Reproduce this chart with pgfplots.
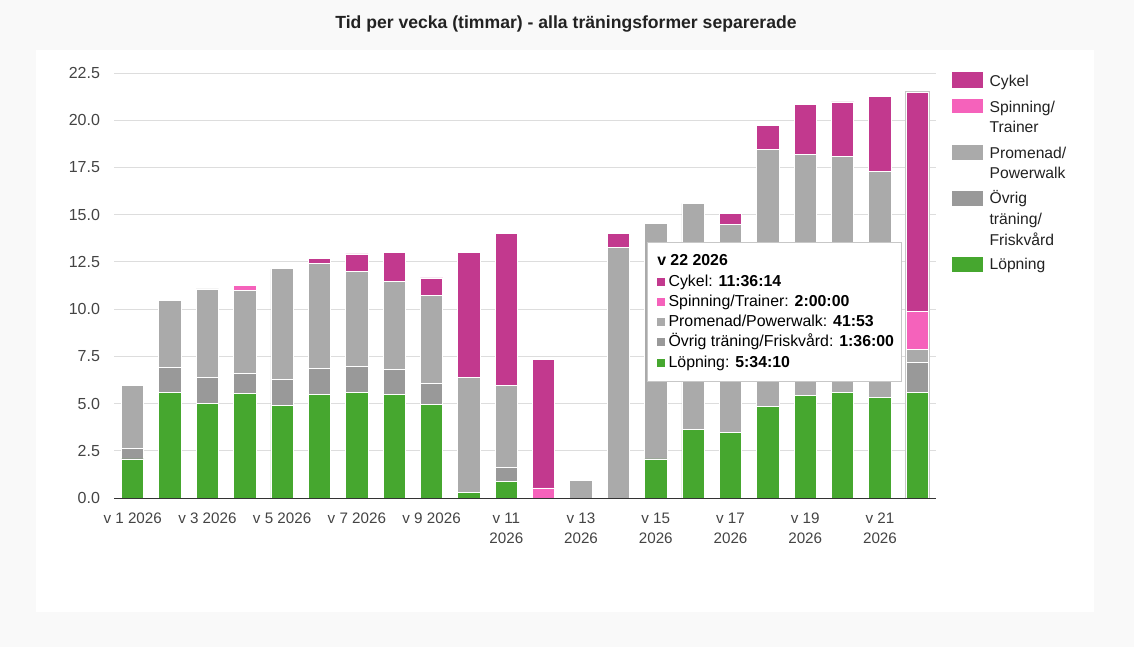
\documentclass[border=0pt]{standalone}
\usepackage{fontspec}
\setmainfont{Liberation Sans}
\usepackage{pgfplots}
\pgfplotsset{compat=1.18}
\usepackage{pgfplotstable}
\definecolor{cyk}{HTML}{C2398E}
\definecolor{spin}{HTML}{F562BB}
\definecolor{prom}{HTML}{AAAAAA}
\definecolor{ovr}{HTML}{999999}
\definecolor{lop}{HTML}{46A72F}
\definecolor{bgc}{HTML}{F9F9F9}
\definecolor{gridc}{HTML}{DDDDDD}
\definecolor{axc}{HTML}{333333}
\definecolor{tickc}{HTML}{444444}
\definecolor{titc}{HTML}{222222}

\pgfplotstableread{
x lop ovr prom spin cyk
0 2.07 0.57 3.34 0 0
1 5.59 1.30 3.58 0 0
2 5.01 1.37 4.69 0 0
3 5.54 1.07 4.39 0.25 0
4 4.92 1.37 5.84 0 0
5 5.47 1.37 5.57 0 0.26
6 5.59 1.37 5.03 0 0.93
7 5.50 1.32 4.64 0 1.56
8 4.97 1.09 4.68 0 0.91
9 0.28 0 6.08 0 6.66
10 0.90 0.73 4.31 0 8.08
11 0 0 0 0.53 6.80
12 0 0 0.91 0 0
13 0 0 13.27 0 0.75
14 2.07 0 12.48 0 0
15 3.62 0 11.98 0 0
16 3.48 0 10.98 0 0.62
17 4.85 0 13.60 0 1.25
18 5.41 0 12.78 0 2.65
19 5.59 0 12.48 0 2.90
20 5.33 0 11.98 0 3.96
21 5.569 1.6 0.698 2.0 11.604
}\data

\begin{document}
\begin{tikzpicture}
\fill[bgc] (0pt,0pt) rectangle (850.5pt,485.25pt);
\fill[white] (27pt,26.25pt) rectangle (820.5pt,447.75pt);
\node[font=\bfseries\fontsize{13.2}{15}\selectfont, text=titc] at (424.5pt,467pt) {Tid per vecka (timmar) - alla träningsformer separerade};
\begin{axis}[
  at={(85.5pt,111.75pt)}, anchor=south west,
  scale only axis, width=616.5pt, height=318.75pt,
  ybar stacked, bar width=0.6,
  xmin=-0.5, xmax=21.5, ymin=0, ymax=22.5,
  ytick={0,2.5,...,22.5},
  yticklabels={0.0,2.5,5.0,7.5,10.0,12.5,15.0,17.5,20.0,22.5},
  xtick={0,2,...,20},
  xticklabels={v 1 2026,v 3 2026,v 5 2026,v 7 2026,v 9 2026,{v 11\\2026},{v 13\\2026},{v 15\\2026},{v 17\\2026},{v 19\\2026},{v 21\\2026}},
  xticklabel style={align=center, font=\fontsize{11.4}{15}\selectfont, text=tickc, yshift=-7.5pt},
  yticklabel style={font=\fontsize{12}{14}\selectfont, text=tickc, xshift=-7pt},
  axis x line*=bottom, axis y line*=left,
  y axis line style={draw=none},
  x axis line style={draw=none},
  major tick length=0pt,
  ymajorgrids, grid style={gridc, line width=0.75pt},
  every axis plot/.append style={draw=white, line width=0.6pt},
]
\addplot[fill=lop] table[x=x, y=lop] {\data};
\addplot[fill=ovr] table[x=x, y=ovr] {\data};
\addplot[fill=prom] table[x=x, y=prom] {\data};
\addplot[fill=spin] table[x=x, y=spin] {\data};
\addplot[fill=cyk] table[x=x, y=cyk] {\data};
% hover outline of week 22
\draw[black!22, line width=1.5pt] (axis cs:20.7,0) rectangle (axis cs:21.3,21.471);
\end{axis}
% x axis line
\draw[axc, line width=0.75pt] (85.5pt,111.75pt) -- (702pt,111.75pt);
% legend
\begin{scope}[every node/.style={anchor=base west, inner sep=0pt, font=\fontsize{11.75}{14}\selectfont, text=titc}]
\fill[cyk]  (713.8pt,419.0pt) rectangle (737.5pt,431.0pt);
\fill[spin] (713.8pt,400.3pt) rectangle (737.5pt,411.0pt);
\fill[prom] (713.8pt,365.25pt) rectangle (737.5pt,376.5pt);
\fill[ovr]  (713.8pt,330.75pt) rectangle (737.5pt,342pt);
\fill[lop]  (713.8pt,281.25pt) rectangle (737.5pt,292.5pt);
\node at (742pt,420.6pt) {Cykel};
\node at (742pt,401.1pt) {Spinning/};
\node at (742pt,386.1pt) {Trainer};
\node at (742pt,366.6pt) {Promenad/};
\node at (742pt,351.6pt) {Powerwalk};
\node at (742pt,332.4pt) {Övrig};
\node at (742pt,316.65pt) {träning/};
\node at (742pt,301.1pt) {Friskvård};
\node at (742pt,283.1pt) {Löpning};
\end{scope}
% tooltip
\filldraw[fill=white, draw=black!22, line width=0.75pt] (485.25pt,199.5pt) rectangle (675.75pt,303pt);
\begin{scope}[every node/.style={anchor=base west, inner sep=0pt, font=\fontsize{11.9}{14}\selectfont}]
\node at (492.75pt,285.75pt) {\bfseries v 22 2026};
\node at (492.75pt,270.75pt) {\textcolor{cyk}{\rule{6pt}{6pt}}\hspace{2.5pt}Cykel: \textbf{11:36:14}};
\node at (492.75pt,255.75pt) {\textcolor{spin}{\rule{6pt}{6pt}}\hspace{2.5pt}Spinning/Trainer: \textbf{2:00:00}};
\node at (492.75pt,240.75pt) {\textcolor{prom}{\rule{6pt}{6pt}}\hspace{2.5pt}Promenad/Powerwalk: \textbf{41:53}};
\node at (492.75pt,225.75pt) {\textcolor{ovr}{\rule{6pt}{6pt}}\hspace{2.5pt}Övrig träning/Friskvård: \textbf{1:36:00}};
\node at (492.75pt,210pt) {\textcolor{lop}{\rule{6pt}{6pt}}\hspace{2.5pt}Löpning: \textbf{5:34:10}};
\end{scope}
\end{tikzpicture}
\end{document}
